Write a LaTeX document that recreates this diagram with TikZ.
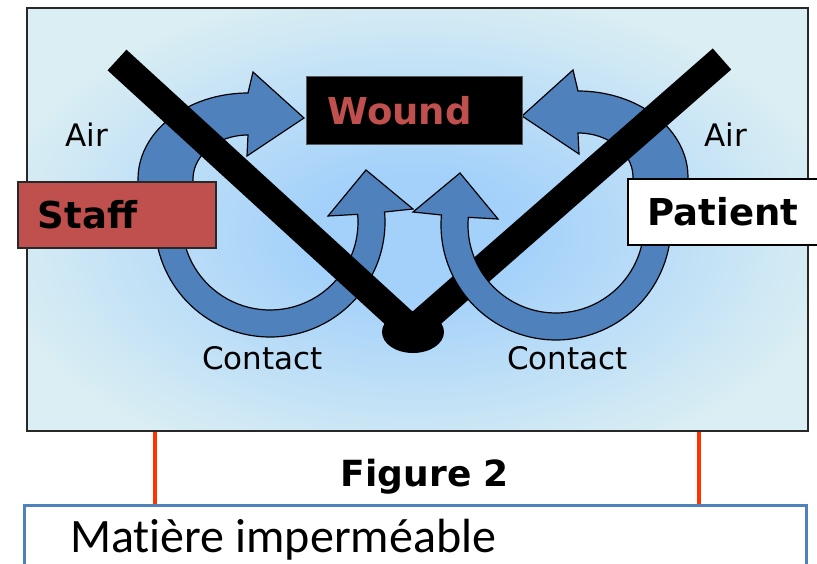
\documentclass[tikz,border=0pt]{standalone}
\usepackage{fontspec}
\setmainfont{DejaVu Sans}
\newfontfamily\carlito[Ligatures={NoCommon}]{Carlito}
\definecolor{bgE}{RGB}{218,238,243}
\definecolor{bgC}{RGB}{163,209,250}
\definecolor{arrowblue}{RGB}{79,129,189}
\definecolor{accred}{RGB}{192,80,77}
\definecolor{linered}{RGB}{255,51,0}
\definecolor{boxblue}{RGB}{79,129,189}
\definecolor{framegray}{RGB}{40,40,40}
\newcommand{\airarrowshape}{([shift={(248,179)}]165:110 and 86) arc[start angle=165, end angle=270, x radius=110, y radius=86] -- (253,72) -- (304,118) -- (247,156) -- (248,135) arc[start angle=270, end angle=165, x radius=55, y radius=44] -- cycle}
\newcommand{\contactshape}{([shift={(270,222)}]195:115) arc[start angle=195, end angle=-5, radius=115] -- (413,209) -- (366,170) -- (328,216) -- ([shift={(270,222)}]-5:88) arc[start angle=-5, end angle=195, radius=88] -- cycle}
\begin{document}
\begin{tikzpicture}[x=1pt,y=-1pt,
  flow/.style={fill=arrowblue, draw=black, line width=1.2pt, line join=miter},
  barline/.style={line width=28pt, black, line cap=butt},
  lbl/.style={font=\fontsize{31}{36}\selectfont, inner sep=0pt, anchor=base west},
  boxlbl/.style={font=\bfseries\fontsize{37}{42}\selectfont, inner ysep=0pt, text height=27pt, text depth=0pt, align=left, anchor=north west, line width=1.5pt},
  redline/.style={draw=linered, line width=3.2pt},
]
\useasboundingbox (0,0) rectangle (817,563);
\clip (0,0) rectangle (817,563);
% background with a stepped elliptical gradient
\fill[bgE] (26,7) rectangle (807,430);
\begin{scope}
  \clip (26,7) rectangle (807,430);
  \foreach \k in {60,59,...,1}{
    \pgfmathsetmacro{\t}{\k/60}
    \pgfmathsetmacro{\p}{min(100,max(0,100*(\t-0.25)/0.75))}
    \colorlet{stepcol}{bgE!\p!bgC}
    \fill[stepcol] (415,235) ellipse [x radius={430*\t}, y radius={250*\t}];
  }
\end{scope}
\node[draw=framegray, line width=2.2pt, minimum width=781pt, minimum height=423pt, anchor=north west, inner sep=0pt] (frame) at (26,7) {};
% left contact loop (below bar)
\path[flow] \contactshape;
% air arrows
\path[flow] \airarrowshape;
\begin{scope}[shift={(826,-2)}, xscale=-1]
  \path[flow] \airarrowshape;
\end{scope}
% bars
\draw[barline] (117,60) -- (412,330);
\draw[barline] (722,59) -- (415,328);
\fill[black] (413,332) ellipse [x radius=31, y radius=21];
% right contact loop (over bar)
\begin{scope}[shift={(826,3)}, xscale=-1]
  \path[flow] \contactshape;
\end{scope}
% boxes
\node[boxlbl, draw=framegray, fill=accred, text=black, inner xsep=20pt, text width=158pt, minimum height=66pt] (staff) at (17,181) {Staff};
\node[boxlbl, draw=black, fill=white, text=black, inner xsep=20pt, text width=153pt, minimum height=66pt] (patient) at (627,178) {Patient};
\node[boxlbl, draw=gray!70!black, line width=1pt, fill=black, text=accred, inner xsep=21pt, text width=174pt, minimum height=68pt] (wound) at (306,76) {Wound};
% labels
\node[lbl] (airL) at (65,146) {Air};
\node[lbl] (airR) at (704,146) {Air};
\node[lbl] (contactL) at (202,369) {Contact};
\node[lbl] (contactR) at (507,369) {Contact};
% bottom
\node[draw=boxblue, line width=3.2pt, fill=white, minimum width=782pt, minimum height=100pt, anchor=north west, inner sep=0pt] (mat) at (23,504) {};
\node[font=\carlito\fontsize{48}{56}\selectfont, anchor=base west, inner sep=0pt] (mattext) at (70,552) {Matière imperméable};
\node[font=\bfseries\fontsize{36}{42}\selectfont, anchor=base, inner sep=0pt] (fig) at (425,486) {Figure 2};
\coordinate (xl) at (155,0);
\coordinate (xr) at (699,0);
\draw[redline] (frame.south -| xl) -- (mat.north -| xl);
\draw[redline] (frame.south -| xr) -- (mat.north -| xr);
\end{tikzpicture}
\end{document}
